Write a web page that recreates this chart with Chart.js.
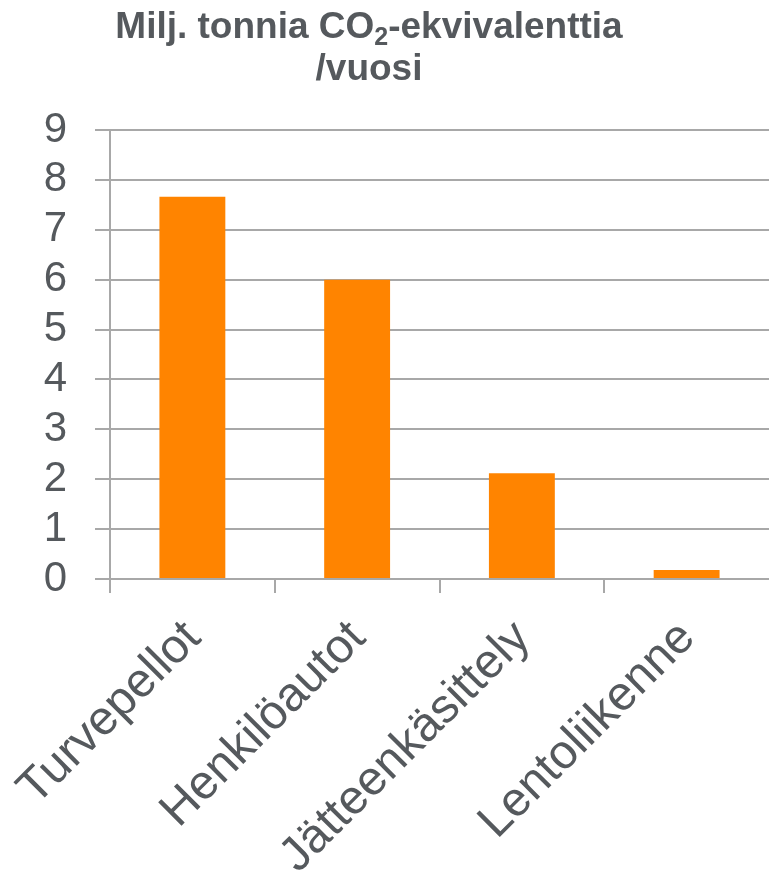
<!DOCTYPE html>
<html lang="fi">
<head>
<meta charset="utf-8">
<title>Milj. tonnia CO2-ekvivalenttia /vuosi</title>
<script src="https://cdn.jsdelivr.net/npm/chart.js@4/dist/chart.umd.min.js"></script>
<style>
  html, body { margin: 0; padding: 0; background: #ffffff; }
  #wrap { width: 769px; height: 870px; position: relative; }
</style>
</head>
<body>
<div id="wrap"><canvas id="chart" width="769" height="870"></canvas></div>
<script>
// Päästölähteet ja vuosipäästöt (milj. t CO2-ekv.)
const categories = ['Turvepellot', 'Henkilöautot', 'Jätteenkäsittely', 'Lentoliikenne'];
const emissions = [7.66, 6.0, 2.12, 0.18];
const yTicks = [0, 1, 2, 3, 4, 5, 6, 7, 8, 9];
const titleLine1 = ['Milj. tonnia CO', '2', '-ekvivalenttia'];
const titleLine2 = '/vuosi';

const FONT = '"Liberation Sans", Arial, Helvetica, sans-serif';
const TEXT = '#55595d';
const GRID = '#a8a8a8';
const BAR = '#ff8400';

// Otsikko piirretään itse, jotta CO2:n alaindeksi saadaan oikein
const titlePlugin = {
  id: 'subscriptTitle',
  afterDraw(chart) {
    const ctx = chart.ctx;
    const cx = 369;
    ctx.save();
    ctx.fillStyle = TEXT;
    ctx.textBaseline = 'alphabetic';
    ctx.textAlign = 'left';
    const big = 'bold 37px ' + FONT;
    const small = 'bold 25px ' + FONT;
    ctx.font = big;
    const w0 = ctx.measureText(titleLine1[0]).width;
    const w2 = ctx.measureText(titleLine1[2]).width;
    ctx.font = small;
    const w1 = ctx.measureText(titleLine1[1]).width;
    let x = cx - (w0 + w1 + w2) / 2;
    const base = 38;
    ctx.font = big;
    ctx.fillText(titleLine1[0], x, base);
    x += w0;
    ctx.font = small;
    ctx.fillText(titleLine1[1], x, base + 7);
    x += w1;
    ctx.font = big;
    ctx.fillText(titleLine1[2], x, base);
    ctx.textAlign = 'center';
    ctx.fillText(titleLine2, cx, base + 42);
    ctx.restore();
  }
};

new Chart(document.getElementById('chart'), {
  type: 'bar',
  data: {
    labels: categories,
    datasets: [{
      data: emissions,
      backgroundColor: BAR,
      borderWidth: 0,
      barPercentage: 0.4,
      categoryPercentage: 1.0
    }]
  },
  options: {
    responsive: false,
    animation: false,
    devicePixelRatio: 1,
    layout: { padding: { top: 130, right: 0, left: 0, bottom: 0 } },
    plugins: {
      legend: { display: false },
      title: { display: false },
      tooltip: { enabled: false }
    },
    scales: {
      x: {
        offset: true,
        afterFit(scale) {
          scale.height = 291;
          // rotated labels may hang left past the plot; keep the plot edge fixed
          scale.paddingLeft = 0;
          scale.paddingRight = 0;
        },
        grid: {
          offset: true,
          drawOnChartArea: false,
          drawTicks: true,
          tickLength: 14,
          // the closing boundary mark on the right edge is left out
          color: (ctx) => (ctx.type === 'tick' ? GRID : 'rgba(0,0,0,0)'),
          lineWidth: 2
        },
        border: { display: true, color: GRID, width: 2 },
        ticks: {
          minRotation: 45,
          maxRotation: 45,
          autoSkip: false,
          padding: 17,
          labelOffset: 1,
          color: TEXT,
          font: { family: FONT, size: 48 }
        }
      },
      y: {
        min: 0,
        max: 9,
        afterFit(scale) { scale.width = 110; },
        afterBuildTicks(scale) { scale.ticks = yTicks.map(v => ({ value: v })); },
        grid: {
          drawTicks: true,
          tickLength: 15,
          color: GRID,
          lineWidth: 2
        },
        border: { display: true, color: GRID, width: 2 },
        ticks: {
          autoSkip: false,
          padding: 28,
          color: TEXT,
          font: { family: FONT, size: 42 }
        }
      }
    }
  },
  plugins: [titlePlugin]
});
</script>
</body>
</html>
